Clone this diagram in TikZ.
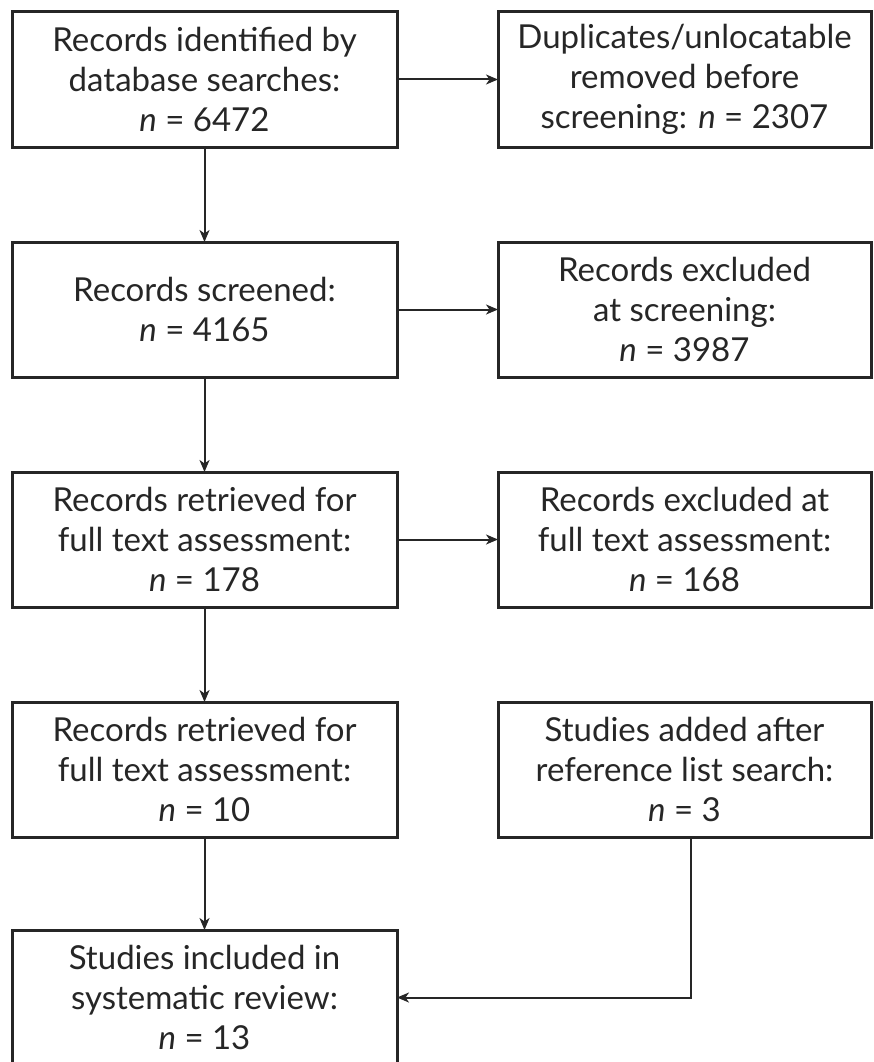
\documentclass[tikz,border=0pt]{standalone}
\usepackage{fontspec}
\setmainfont{Lato}
\usetikzlibrary{arrows.meta}
\begin{document}
\begin{tikzpicture}[x=1pt,y=-1pt,
  box/.style={draw=black!85, line width=3pt, rectangle, inner sep=0pt, outer sep=0pt,
    minimum height=135pt, align=center, font=\fontsize{33}{40}\selectfont, text=black!85},
  lbox/.style={box, minimum width=385pt},
  rbox/.style={box, minimum width=373pt},
  arr/.style={draw=black!85, line width=2pt, -{Stealth[length=12pt,width=10pt,inset=3.5pt]}}]
\useasboundingbox (0,0) rectangle (873,1062);
\clip (0,0) rectangle (873,1062);
\node[lbox] (l1) at (204.5,79.5) {Records identified by\\database searches:\\\textit{n} = 6472};
\node[rbox] (r1) at (684.5,79.5) {Duplicates/unlocatable\\removed before\\screening: \textit{n} = 2307};
\node[lbox] (l2) at (204.5,309.5) {Records screened:\\\textit{n} = 4165};
\node[rbox] (r2) at (684.5,309.5) {Records excluded\\at screening:\\\textit{n} = 3987};
\node[lbox] (l3) at (204.5,539.5) {Records retrieved for\\full text assessment:\\\textit{n} = 178};
\node[rbox] (r3) at (684.5,539.5) {Records excluded at\\full text assessment:\\\textit{n} = 168};
\node[lbox] (l4) at (204.5,769.5) {Records retrieved for\\full text assessment:\\\textit{n} = 10};
\node[rbox] (r4) at (684.5,769.5) {Studies added after\\reference list search:\\\textit{n} = 3};
\node[lbox] (l5) at (204.5,997.5) {Studies included in\\systematic review:\\\textit{n} = 13};
\draw[arr] (l1.east) -- (r1.west);
\draw[arr] (l2.east) -- (r2.west);
\draw[arr] (l3.east) -- (r3.west);
\draw[arr] (l1.south) -- (l2.north);
\draw[arr] (l2.south) -- (l3.north);
\draw[arr] (l3.south) -- (l4.north);
\draw[arr] (l4.south) -- (l5.north);
\draw[arr] ([xshift=6.5pt]r4.south) |- (l5.east);
\end{tikzpicture}
\end{document}
